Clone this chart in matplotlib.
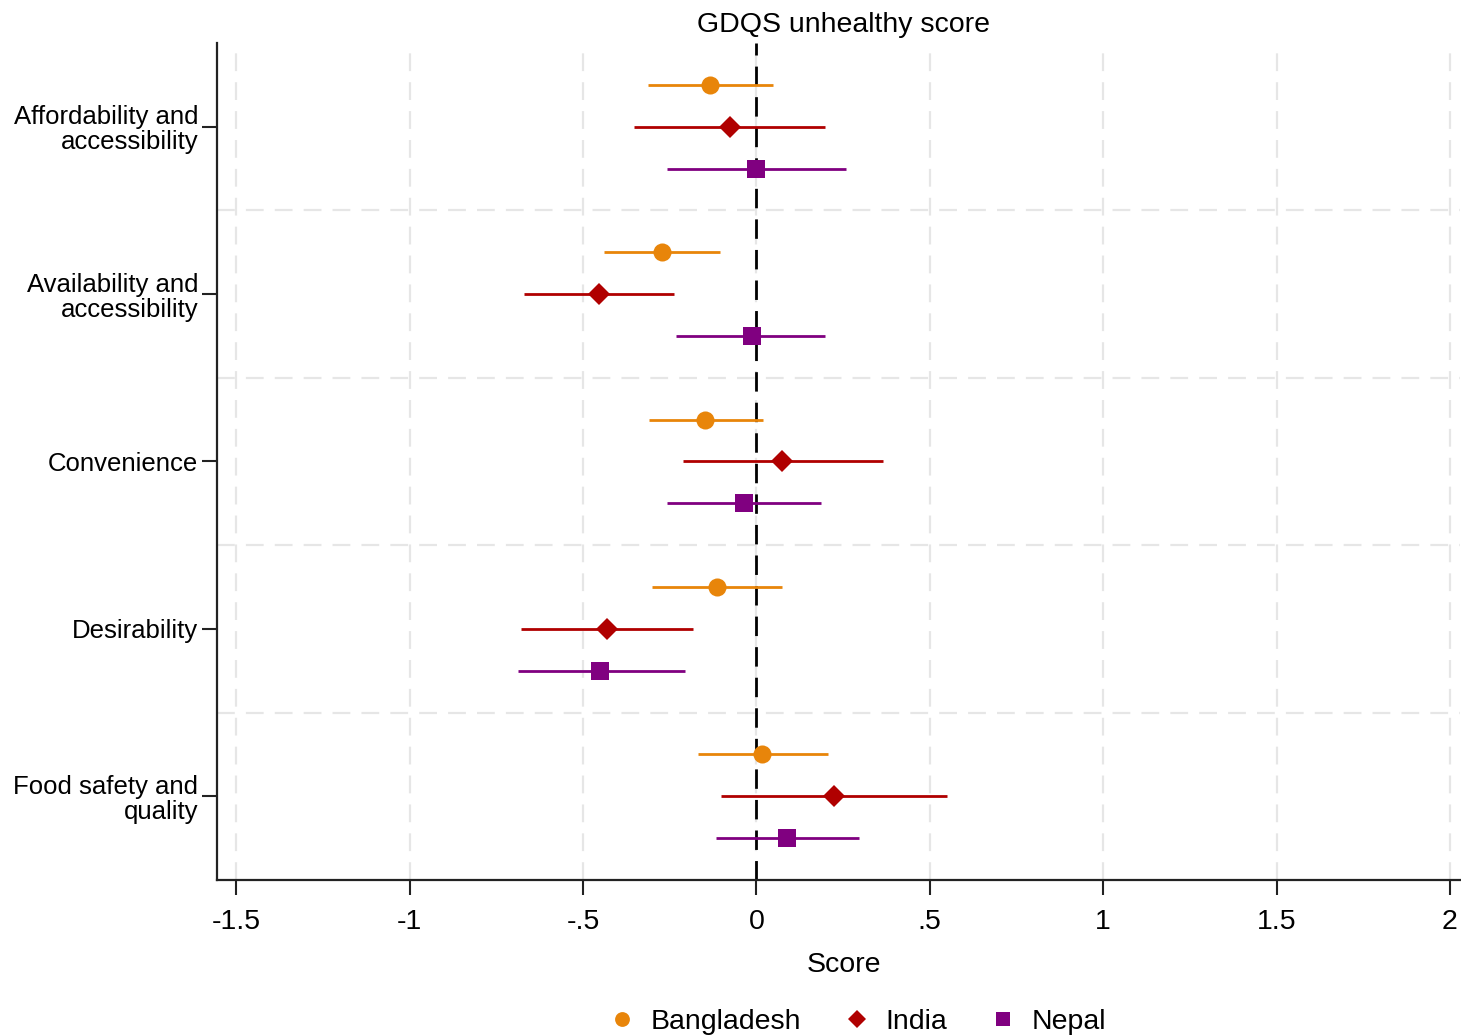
import matplotlib
matplotlib.use("Agg")
import matplotlib.pyplot as plt
from matplotlib.lines import Line2D
import numpy as np

plt.rcParams['font.family'] = ['Liberation Sans', 'DejaVu Sans']

categories = ["Affordability and\naccessibility", "Availability and\naccessibility",
              "Convenience", "Desirability", "Food safety and\nquality"]
countries = ["Bangladesh", "India", "Nepal"]

bangladesh_est = [-0.133, -0.271, -0.147, -0.115, 0.017]
bangladesh_lo = [-0.314, -0.441, -0.311, -0.300, -0.170]
bangladesh_hi = [0.049, -0.104, 0.020, 0.075, 0.205]

india_est = [-0.075, -0.455, 0.075, -0.432, 0.225]
india_lo = [-0.352, -0.669, -0.213, -0.680, -0.101]
india_hi = [0.199, -0.239, 0.366, -0.182, 0.550]

nepal_est = [0.000, -0.014, -0.037, -0.450, 0.089]
nepal_lo = [-0.259, -0.231, -0.259, -0.689, -0.118]
nepal_hi = [0.259, 0.199, 0.187, -0.207, 0.297]

xticks = [-1.5, -1, -0.5, 0, 0.5, 1, 1.5, 2]
xticklabels = ["-1.5", "-1", "-.5", "0", ".5", "1", "1.5", "2"]

series = [
    (bangladesh_est, bangladesh_lo, bangladesh_hi, "#E8850A", "o", 13, -0.25),
    (india_est, india_lo, india_hi, "#B00000", "D", 11.5, 0.0),
    (nepal_est, nepal_lo, nepal_hi, "#800080", "s", 13, 0.25),
]

fig = plt.figure(figsize=(14.61, 10.35), dpi=100)
ax = fig.add_axes([0.1485, 0.1498, 0.851, 0.8087])

ypos = np.arange(1, len(categories) + 1)

# grid
for xv in xticks:
    ax.axvline(xv, color="#E6E6E6", lw=1.6, ls=(0, (8, 5)), zorder=0)
for yv in np.arange(1.5, len(categories), 1.0):
    ax.axhline(yv, color="#E6E6E6", lw=1.6, ls=(0, (8, 5)), zorder=0)

ax.axvline(0, color="black", lw=2, ls=(0, (7, 4)), zorder=1)

handles = []
for (est, lo, hi, col, mk, ms, off), name in zip(series, countries):
    y = ypos + off
    ax.hlines(y, lo, hi, color=col, lw=2, zorder=2)
    ax.plot(est, y, ls="none", marker=mk, color=col, markersize=ms,
            markeredgewidth=0, zorder=3)
    handles.append(Line2D([], [], ls="none", marker=mk, color=col,
                          markersize=ms * 0.82, markeredgewidth=0, label=name))

ax.set_ylim(len(categories) + 0.5, 0.5)
ax.set_xlim(-1.556, 2.03)
ax.set_yticks(ypos)
ax.set_yticklabels(categories, fontsize=18.5, ha="right", linespacing=1.05)
ax.set_xticks(xticks)
ax.set_xticklabels(xticklabels, fontsize=20.5)
ax.tick_params(axis="both", length=11, width=1.5, color="#222222")
ax.tick_params(axis="y", pad=2.5)
ax.tick_params(axis="x", pad=10)

for s in ["top", "right"]:
    ax.spines[s].set_visible(False)
for s in ["left", "bottom"]:
    ax.spines[s].set_linewidth(1.6)
    ax.spines[s].set_color("#222222")

ax.set_title("GDQS unhealthy score", fontsize=20.5, pad=8, x=0.504)
ax.set_xlabel("Score", fontsize=20.5, labelpad=12, x=0.504)

fig.legend(handles=handles, loc="lower center", bbox_to_anchor=(0.5856, -0.025),
           ncol=3, frameon=False, fontsize=20.5, handletextpad=0.4,
           columnspacing=1.37, handlelength=1.2)

fig.savefig("out.png", dpi=100)
